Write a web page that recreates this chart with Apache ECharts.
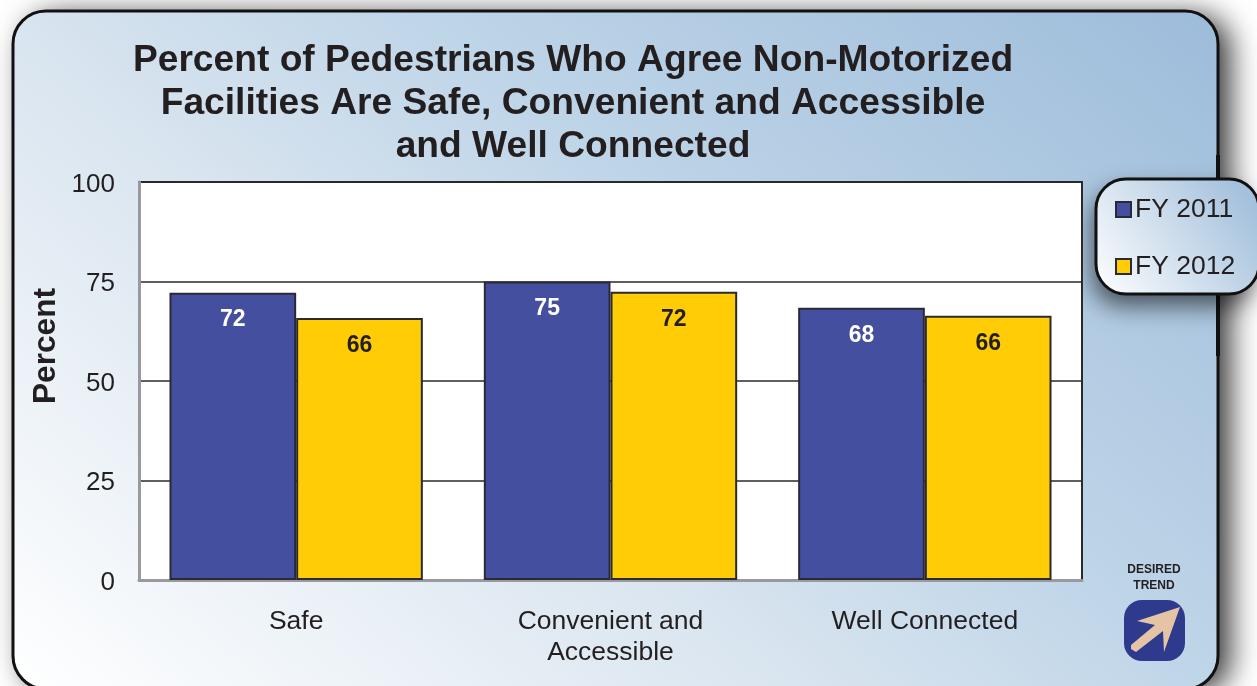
<!DOCTYPE html>
<html><head><meta charset="utf-8">
<style>html,body{margin:0;padding:0;background:#fff}#c{width:1257px;height:686px}</style>
<script src="https://cdn.jsdelivr.net/npm/echarts@6/dist/echarts.min.js"></script>
</head><body><div id="c"></div>
<script>
const categories = ['Safe', 'Convenient and\nAccessible', 'Well Connected'];
const fy2011 = [72.2, 75, 68.4];
const fy2012 = [65.8, 72.4, 66.4];
const yTicks = [0, 25, 50, 75, 100];
const titleText = 'Percent of Pedestrians Who Agree Non-Motorized\nFacilities Are Safe, Convenient and Accessible\nand Well Connected';
const INK = '#231f20', BLUE = '#454fa0', YELLOW = '#ffcc05';
const FONT = '"Liberation Sans", Arial, sans-serif';

const chart = echarts.init(document.getElementById('c'), null, {renderer:'canvas'});
const barSeries = (name, data, color, labelColor) => ({
  name, type:'bar', data, barWidth:'40.3%', barGap:0,
  itemStyle:{color, borderColor:'#2a2a36', borderWidth:2},
  label:{show:true, position:'insideTop', distance:16, color:labelColor,
    fontFamily:FONT, fontWeight:'bold', fontSize:23,
    formatter:p => String(Math.round(p.value))}
});
chart.setOption({
  animation:false,
  backgroundColor:'#fff',
  title:{text:titleText, left:568, top:34.5, textAlign:'center',
    textStyle:{fontFamily:FONT, fontWeight:'bold', fontSize:37.2, lineHeight:43, color:INK}},
  grid:{left:139, top:182, width:943, height:398, show:true, backgroundColor:'#fff',
    borderColor:'#2a2a2a', borderWidth:2},
  legend:{orient:'vertical', left:1110, top:191, itemWidth:15, itemHeight:15, itemGap:30,
    icon:'rect', data:['FY 2011','FY 2012'],
    textStyle:{fontFamily:FONT, fontSize:26.5, color:INK, padding:[0,0,0,-1]}},
  xAxis:{type:'category', data:categories,
    axisLine:{show:true, lineStyle:{color:'#9a9a9e', width:3}},
    axisTick:{show:false},
    axisLabel:{fontFamily:FONT, fontSize:26.5, lineHeight:31, color:INK, margin:26, interval:0}},
  yAxis:{type:'value', min:0, max:100, interval:25,
    name:'Percent', nameLocation:'middle', nameGap:77, nameMoveOverlap:false,
    nameTextStyle:{fontFamily:FONT, fontWeight:'bold', fontSize:31.6, color:INK, padding:[0,0,0,70]},
    axisLine:{show:true, lineStyle:{color:'#9a9a9e', width:3}},
    axisTick:{show:false},
    axisLabel:{margin:24,
      rich:{t:{fontFamily:FONT, fontSize:26, color:INK, padding:[5,0,0,0]}},
      formatter:v => yTicks.includes(v) ? '{t|' + v + '}' : ''},
    splitLine:{show:true, lineStyle:{color:'#2a2a2a', width:1.5}}},
  series:[barSeries('FY 2011', fy2011, BLUE, '#fff'), barSeries('FY 2012', fy2012, YELLOW, INK)],
  graphic:{elements:[
    {type:'rect', z:-11, shape:{x:13,y:11,width:1205,height:678,r:33},
      style:{fill:'#888', shadowBlur:30, shadowColor:'rgba(0,0,0,.8)', shadowOffsetX:12, shadowOffsetY:4}},
    {type:'rect', z:-10, shape:{x:13,y:11,width:1205,height:678,r:33},
      style:{fill:{type:'linear',global:true,x:13,y:689,x2:848,y2:-301,colorStops:[
          {offset:0,color:'#ffffff'},{offset:.4,color:'#d8e4ef'},{offset:.6,color:'#bfd5e8'},{offset:1,color:'#9dbcda'}]},
        stroke:'#111', lineWidth:3}},
    {type:'line', z:-9, shape:{x1:1218,y1:155,x2:1218,y2:356}, style:{stroke:'#111', lineWidth:4}},
    {type:'rect', z:-8.5, shape:{x:1096,y:179,width:163,height:115,r:30},
      style:{fill:'#888', shadowBlur:24, shadowColor:'rgba(0,0,0,.6)', shadowOffsetX:-4, shadowOffsetY:12}},
    {type:'rect', z:-8, shape:{x:1096,y:179,width:163,height:115,r:30},
      style:{fill:{type:'linear',x:0,y:1,x2:1,y2:0,colorStops:[{offset:0,color:'#ffffff'},{offset:.9,color:'#a3c0dc'}]},
        stroke:'#111', lineWidth:3}},
    {type:'text', z:-7, style:{text:'DESIRED\nTREND', x:1154, y:562, align:'center', lineHeight:16,
      font:'bold 12px "Liberation Sans", Arial, sans-serif', fill:INK}},
    {type:'rect', z:-7, shape:{x:1124,y:600,width:61,height:61,r:18}, style:{fill:'#2e3a8c'}},
    {type:'polygon', z:-6, shape:{points:[[1180,607],[1137,621],[1155,625],[1131,645],[1131,649],[1136,652],[1163,631],[1164,652]]},
      style:{fill:'#e5c3a5'}}
  ]}
});
</script></body></html>
